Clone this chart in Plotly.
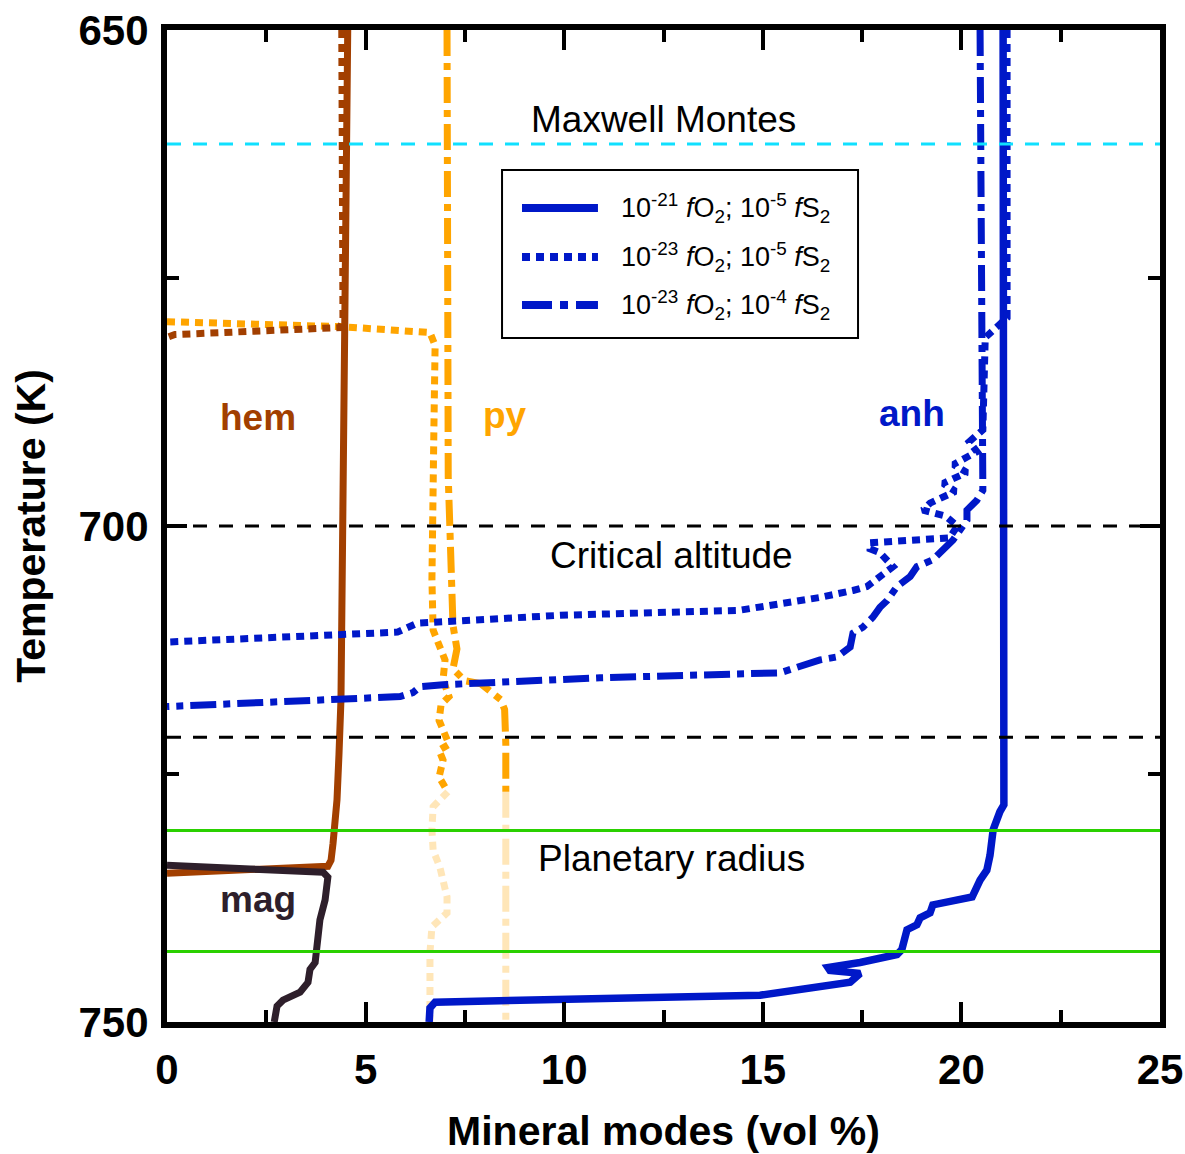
import plotly.graph_objects as go

# ---------------- data (x = mineral mode vol %, T = temperature K) ----------------
hem_solid_x = [4.55, 4.52, 4.48, 4.45, 4.43, 4.40, 4.38, 4.33, 4.28, 4.18, 4.13, 4.05, 0.0]
hem_solid_T = [650, 665, 680, 695, 707, 712, 717.5, 723, 727.6, 732, 733.7, 734.3, 735.0]

hem_dot_x = [4.40, 4.40, 4.43, 4.36, 2.0, 0.2, 0.0]
hem_dot_T = [650, 665, 679.2, 680.0, 680.4, 680.7, 681.0]

py_dot_x = [0.0, 4.36, 6.62, 6.75, 6.72, 6.68, 6.67, 6.70, 7.00, 6.95, 7.10, 6.90, 6.85,
            7.10, 6.85, 6.95, 6.85, 7.07]
py_dot_T = [679.4, 679.9, 680.5, 681.8, 690, 700, 705.4, 710.5, 713.5, 715.5, 717.2, 718.0,
            719.6, 722.0, 722.6, 723.6, 725.3, 726.8]
py_dot_pale_x = [7.07, 6.70, 6.67, 6.70, 6.87, 7.05, 7.05, 6.67, 6.62, 6.62]
py_dot_pale_T = [726.8, 728.3, 730.6, 732.7, 734.4, 737.4, 739.0, 740.4, 743.0, 750]

py_dd_x = [7.05, 7.05, 7.08, 7.12, 7.15, 7.20, 7.30, 7.20, 7.50, 7.90, 8.40, 8.50, 8.53, 8.53]
py_dd_T = [650, 680, 695, 700, 705.4, 710, 712.4, 714.4, 715.6, 715.9, 717.5, 718.5, 722, 726.8]
py_dd_pale_x = [8.53, 8.53]
py_dd_pale_T = [726.8, 750]

anh_solid_x = [21.05, 21.05, 21.05, 21.07, 20.97, 20.80, 20.72, 20.64, 20.47, 20.27, 19.28,
               19.21, 18.96, 18.88, 18.63, 18.58, 18.50, 18.38, 17.45, 16.64, 16.69, 17.45,
               17.20, 14.93, 10.90, 6.75, 6.62, 6.60]
anh_solid_T = [650, 697.4, 720, 728.1, 728.8, 730.6, 733.2, 734.7, 735.7, 737.4, 738.2,
               739.0, 739.5, 740.2, 740.7, 741.7, 742.7, 743.2, 744.0, 744.5, 744.8, 745.1,
               746.0, 747.3, 747.6, 748.0, 748.6, 750]

anh_dot_x = [21.15, 21.15, 20.60, 20.54, 20.20, 20.39, 19.80, 20.14, 19.54, 19.85, 19.21,
             19.03, 19.60, 19.90, 19.70, 18.50, 17.70, 17.70, 17.95, 18.28, 17.95, 17.62,
             17.27, 16.44, 14.40, 9.90, 6.30, 5.80, 0.0]
anh_dot_T = [650, 679, 681, 690.3, 691.5, 692.5, 693.8, 694.6, 695.7, 696.5, 697.7,
             698.4, 699.0, 700.0, 701.2, 701.5, 701.7, 702.3, 702.7, 704.1, 705.1, 706.1,
             706.5, 707.2, 708.5, 709.0, 709.8, 710.7, 711.7]

anh_dd_x = [20.47, 20.50, 20.54, 20.54, 20.39, 20.14, 20.14, 19.96, 19.79, 19.28, 18.88,
            18.71, 18.38, 18.13, 17.95, 17.77, 17.52, 17.27, 17.20, 16.87, 16.44, 15.43,
            10.90, 6.95, 6.37, 6.19, 5.87, 0.0]
anh_dd_T = [650, 680, 681, 696.4, 697.4, 698.4, 699.4, 700.4, 701.4, 703.4, 704.1,
            705.1, 706.1, 707.5, 708.2, 709.2, 710.2, 710.8, 712.2, 713.2, 713.5, 714.8,
            715.3, 716.0, 716.2, 716.8, 717.2, 718.2]

mag_x = [0.0, 3.93, 4.05, 3.98, 3.85, 3.78, 3.73, 3.60, 3.55, 3.35, 2.92, 2.77, 2.72, 2.70]
mag_T = [734.2, 734.9, 735.4, 737.7, 739.7, 742.7, 744.0, 744.7, 746.0, 747.0, 747.8,
         748.4, 749.7, 750]

legend_names = ["10<sup>-21</sup> <i>f</i>O<sub>2</sub>; 10<sup>-5</sup> <i>f</i>S<sub>2</sub>",
                "10<sup>-23</sup> <i>f</i>O<sub>2</sub>; 10<sup>-5</sup> <i>f</i>S<sub>2</sub>",
                "10<sup>-23</sup> <i>f</i>O<sub>2</sub>; 10<sup>-4</sup> <i>f</i>S<sub>2</sub>"]

maxwell_T = 661.5
critical_T = [700.0, 721.3]
radius_T = [730.7, 742.9]

x_ticks = [0, 5, 10, 15, 20, 25]
y_ticks = [650, 700, 750]

# ---------------- styles ----------------
BROWN = "#A23F00"
ORANGE = "#FFA500"
PALE = "rgba(255,165,0,0.28)"
BLUE = "#0018C8"
MAG = "#2E1F2B"
CYAN = "#10E0FF"
GREEN = "#2AD000"
DOT = "8px,6px"
DASHDOT = "26px,7px,7px,7px"
FONT = "Liberation Sans, Arial, sans-serif"

fig = go.Figure()

def add(x, y, color, width, dash="solid", name=None):
    fig.add_trace(go.Scatter(x=x, y=y, mode="lines", name=name, showlegend=False,
                             line=dict(color=color, width=width, dash=dash)))

add(py_dot_pale_x, py_dot_pale_T, PALE, 7, DOT)
add(py_dd_pale_x, py_dd_pale_T, PALE, 7, DASHDOT)
add(py_dot_x, py_dot_T, ORANGE, 7, DOT)
add(py_dd_x, py_dd_T, ORANGE, 7, DASHDOT)
add(hem_dot_x, hem_dot_T, BROWN, 7, DOT)
add(hem_solid_x, hem_solid_T, BROWN, 7)
add(mag_x, mag_T, MAG, 7)
add(anh_solid_x, anh_solid_T, BLUE, 7.5, "solid", legend_names[0])
add(anh_dot_x, anh_dot_T, BLUE, 7, DOT, legend_names[1])
add(anh_dd_x, anh_dd_T, BLUE, 7, DASHDOT, legend_names[2])

# horizontal reference lines
def hline(T, color, dash):
    fig.add_shape(type="line", xref="x", yref="y", x0=0, x1=25, y0=T, y1=T,
                  line=dict(color=color, width=3, dash=dash), layer="above")

hline(maxwell_T, CYAN, "14px,12px")
for t in critical_T:
    hline(t, "black", "14px,12px")
for t in radius_T:
    hline(t, GREEN, "solid")

# legend box (drawn manually to match the reference layout)
fig.add_shape(type="rect", xref="paper", yref="paper", x0=0.3374, x1=0.6959,
              y0=0.6895, y1=0.8589, line=dict(color="black", width=2),
              fillcolor="white", layer="above")
leg_dash = ["solid", "8px,6px", "30px,8px,8px,8px"]
leg_y = [0.8206, 0.7712, 0.7228]
for name, dash, yy in zip(legend_names, leg_dash, leg_y):
    fig.add_shape(type="line", xref="paper", yref="paper", x0=0.3575, x1=0.4340,
                  y0=yy, y1=yy, line=dict(color=BLUE, width=8, dash=dash), layer="above")
    fig.add_annotation(x=0.4552, y=yy, xref="paper", yref="paper", xanchor="left",
                       yanchor="middle", showarrow=False, text=name,
                       font=dict(family=FONT, size=27, color="black"))

def note(x, y, text, size=37, color="black", bold=False):
    fig.add_annotation(x=x, y=y, xref="x", yref="y", showarrow=False,
                       text=f"<b>{text}</b>" if bold else text,
                       font=dict(family=FONT, size=size, color=color))

note(12.5, 659.0, "Maxwell Montes")
note(12.7, 703.0, "Critical altitude")
note(12.7, 733.5, "Planetary radius")
note(2.3, 689.1, "hem", 37, BROWN, True)
note(8.5, 688.9, "py", 37, ORANGE, True)
note(18.75, 688.7, "anh", 37, BLUE, True)
note(2.3, 737.7, "mag", 37, MAG, True)

axis_common = dict(showline=True, linewidth=6, linecolor="black", mirror="ticks",
                   ticks="inside", tickwidth=4, ticklen=20, tickcolor="black",
                   showgrid=False, zeroline=False, automargin=False,
                   tickfont=dict(family=FONT, size=42, color="black"))

fig.update_xaxes(range=[0, 25], tickvals=x_ticks,
                 ticktext=[f"<b>{v}</b>" for v in x_ticks],
                 minor=dict(ticks="inside", ticklen=12, tickwidth=4, tickcolor="black", dtick=2.5, tick0=0),
                 ticklabelstandoff=6,
                 title=dict(text="<b>Mineral modes (vol %)</b>", standoff=26,
                            font=dict(family=FONT, size=41, color="black")),
                 **axis_common)
fig.update_yaxes(range=[750, 650], tickvals=y_ticks,
                 ticktext=[f"<b>{v}</b>" for v in y_ticks],
                 minor=dict(ticks="inside", ticklen=12, tickwidth=4, tickcolor="black", dtick=25, tick0=650),
                 ticklabelstandoff=4,
                 title=dict(text="<b>Temperature (K)</b>", standoff=22,
                            font=dict(family=FONT, size=41, color="black")),
                 **axis_common)

fig.update_layout(
    width=1185, height=1154,
    margin=dict(l=167, r=25, t=30, b=132),
    plot_bgcolor="white", paper_bgcolor="white",
    font=dict(family=FONT, color="black"),
    showlegend=False,
)

fig.write_html("out.html")
